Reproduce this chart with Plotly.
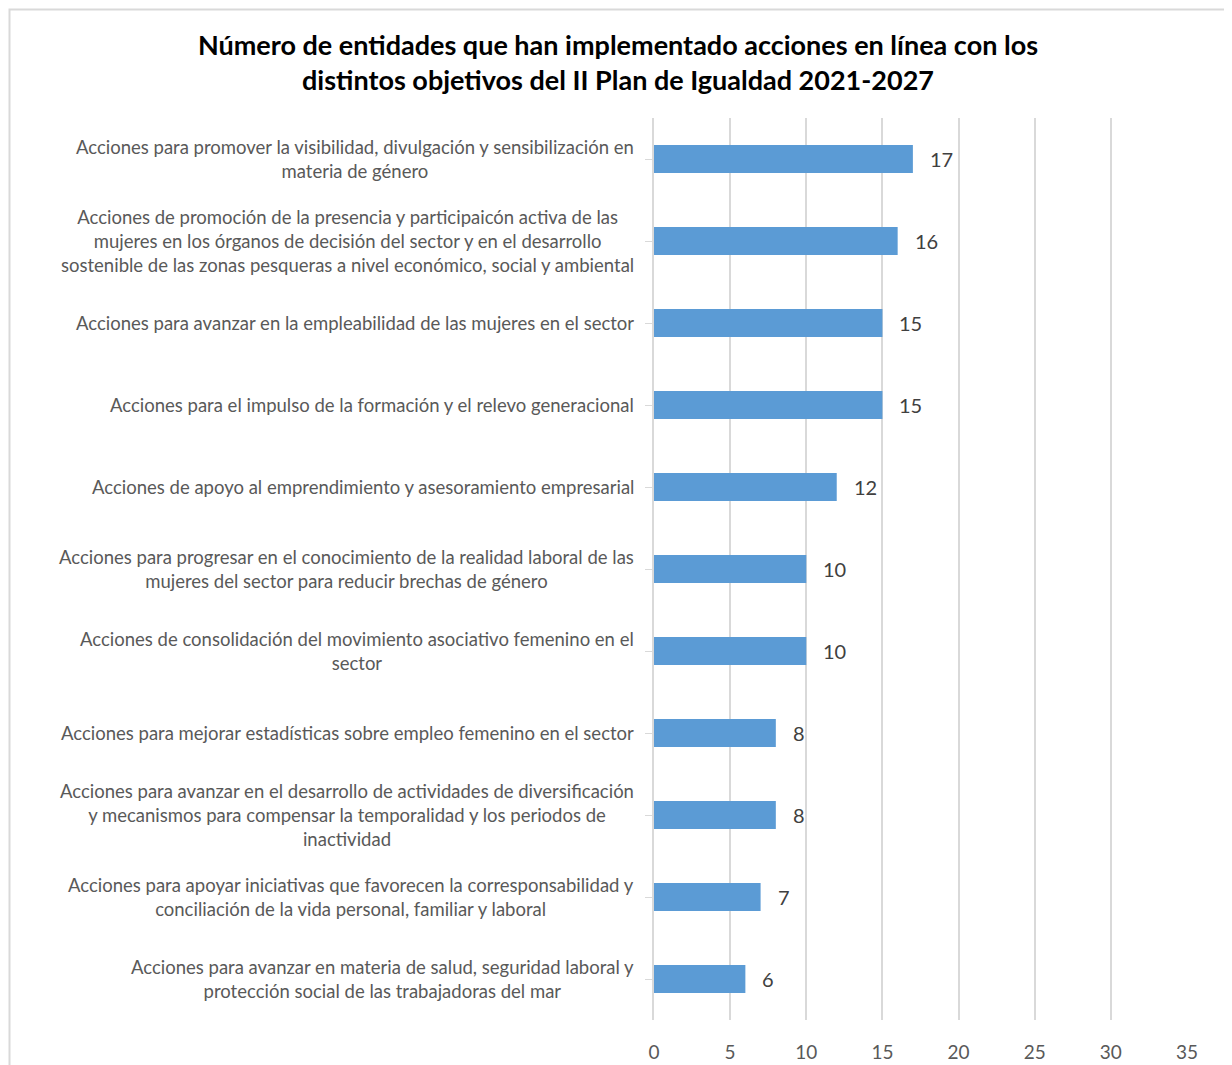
import plotly.graph_objects as go

categories = [
    "Acciones para promover la visibilidad, divulgación y sensibilización en<br>materia de género",
    "Acciones de promoción de la presencia y participaicón activa de las<br>mujeres en los órganos de decisión del sector y en el desarrollo<br>sostenible de las zonas pesqueras a nivel económico, social y ambiental",
    "Acciones para avanzar en la empleabilidad de las mujeres en el sector",
    "Acciones para el impulso de la formación y el relevo generacional",
    "Acciones de apoyo al emprendimiento y asesoramiento empresarial",
    "Acciones para progresar en el conocimiento de la realidad laboral de las<br>mujeres del sector para reducir brechas de género",
    "Acciones de consolidación del movimiento asociativo femenino en el<br>sector",
    "Acciones para mejorar estadísticas sobre empleo femenino en el sector",
    "Acciones para avanzar en el desarrollo de actividades de diversificación<br>y mecanismos para compensar la temporalidad y los periodos de<br>inactividad",
    "Acciones para apoyar iniciativas que favorecen la corresponsabilidad y<br>conciliación de la vida personal, familiar y laboral",
    "Acciones para avanzar en materia de salud, seguridad laboral y<br>protección social de las trabajadoras del mar",
]
values = [17, 16, 15, 15, 12, 10, 10, 8, 8, 7, 6]
x_ticks = [0, 5, 10, 15, 20, 25, 30, 35]
title_text = ("Número de entidades que han implementado acciones en línea con los<br>"
              "distintos objetivos del II Plan de Igualdad 2021-2027")

ids = list(range(len(categories)))

W, H = 1224, 1057
L, R, T, B = 646, 45, 110, 45
PW, PH = W - L - R, H - T - B

fig = go.Figure(go.Bar(
    x=values, y=ids, orientation="h",
    marker=dict(color="#5B9BD5", line=dict(width=0)),
    width=0.34,
))

annotations = []
for i, (cat, v) in enumerate(zip(categories, values)):
    annotations.append(dict(
        x=0, xref="paper", y=i, yref="y", text=cat, showarrow=False,
        xanchor="right", yanchor="middle", align="center", xshift=-18,
        font=dict(family="Lato", size=18.5, color="#595959"),
    ))
    annotations.append(dict(
        x=v, xref="x", y=i, yref="y", text=str(v), showarrow=False,
        xanchor="left", yanchor="middle", xshift=15,
        font=dict(family="Lato", size=20, color="#404040"),
    ))

fig.update_layout(
    width=W, height=H,
    margin=dict(l=L, r=R, t=T, b=B, autoexpand=False),
    paper_bgcolor="white", plot_bgcolor="white",
    title=dict(text=title_text, x=610 / W, xref="container", xanchor="center",
               y=1 - 47 / H, yref="container", yanchor="middle",
               font=dict(family="Lato", size=27, color="#000000", weight="bold")),
    xaxis=dict(range=[0, 35], tickvals=x_ticks, showgrid=True, gridcolor="#d9d9d9",
               gridwidth=1.5, zeroline=False, showline=False, ticks="",
               tickfont=dict(family="Lato", size=19, color="#595959"),
               ticklabelstandoff=19, automargin=False),
    yaxis=dict(tickvals=ids, range=[len(ids) - 0.5, -0.5], showticklabels=False,
               showline=True, linecolor="#d9d9d9", linewidth=1.5,
               ticks="outside", tickson="boundaries", ticklen=7, tickcolor="#d9d9d9",
               showgrid=False, zeroline=False, type="linear", automargin=False),
    annotations=annotations,
    shapes=[dict(type="rect", xref="paper", yref="paper",
                 x0=(1.5 - L) / PW, x1=(1222 - L) / PW,
                 y0=-80 / PH, y1=1 + (T - 1.5) / PH,
                 line=dict(color="#d9d9d9", width=2), fillcolor="rgba(0,0,0,0)",
                 layer="below")],
    showlegend=False,
)

fig.write_html("out.html")
